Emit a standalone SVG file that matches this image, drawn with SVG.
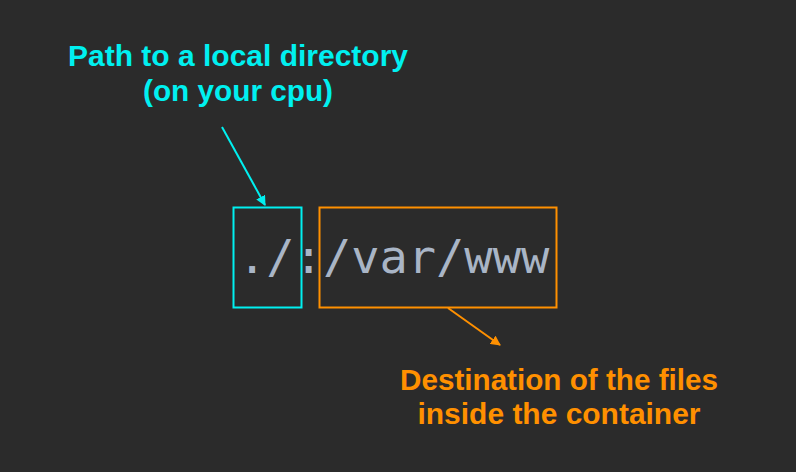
<svg xmlns="http://www.w3.org/2000/svg" width="796" height="472" viewBox="0 0 796 472">
<defs>
<style>
.lbl{font-family:"Liberation Sans",Arial,sans-serif;font-weight:bold;font-size:29px;text-anchor:middle}
.code{font-family:"DejaVu Sans Mono",monospace;font-size:47px;fill:#a9b5c6}
</style>
<marker id="ac" viewBox="0 0 10 10" refX="9" refY="5" markerWidth="10" markerHeight="10" markerUnits="userSpaceOnUse" orient="auto"><path d="M0,0L10,5L0,10z" fill="#00f0f0"/></marker>
<marker id="ao" viewBox="0 0 10 10" refX="9" refY="5" markerWidth="10" markerHeight="10" markerUnits="userSpaceOnUse" orient="auto"><path d="M0,0L10,5L0,10z" fill="#ff9000"/></marker>
</defs>
<rect width="796" height="472" fill="#2b2b2b"/>
<g id="code"><text class="code" x="238" y="273">./:/var/www</text></g>
<g id="local">
<rect x="233.5" y="207.5" width="68" height="100" fill="none" stroke="#00f0f0" stroke-width="2"/>
<text class="lbl" fill="#00f0f0" x="238" y="66" textLength="340" lengthAdjust="spacingAndGlyphs">Path to a local directory</text>
<text class="lbl" fill="#00f0f0" x="238" y="101" textLength="190" lengthAdjust="spacingAndGlyphs">(on your cpu)</text>
</g>
<g id="dest">
<rect x="319.5" y="207.5" width="237" height="100" fill="none" stroke="#ff9000" stroke-width="2"/>
<text class="lbl" fill="#ff9000" x="559" y="390" textLength="318" lengthAdjust="spacingAndGlyphs">Destination of the files</text>
<text class="lbl" fill="#ff9000" x="559" y="424" textLength="283" lengthAdjust="spacingAndGlyphs">inside the container</text>
</g>
<g id="connectors" stroke-width="2" fill="none">
<line x1="222" y1="127" x2="265" y2="205" stroke="#00f0f0" marker-end="url(#ac)"/>
<line x1="448" y1="308" x2="500" y2="345" stroke="#ff9000" marker-end="url(#ao)"/>
</g>
</svg>
